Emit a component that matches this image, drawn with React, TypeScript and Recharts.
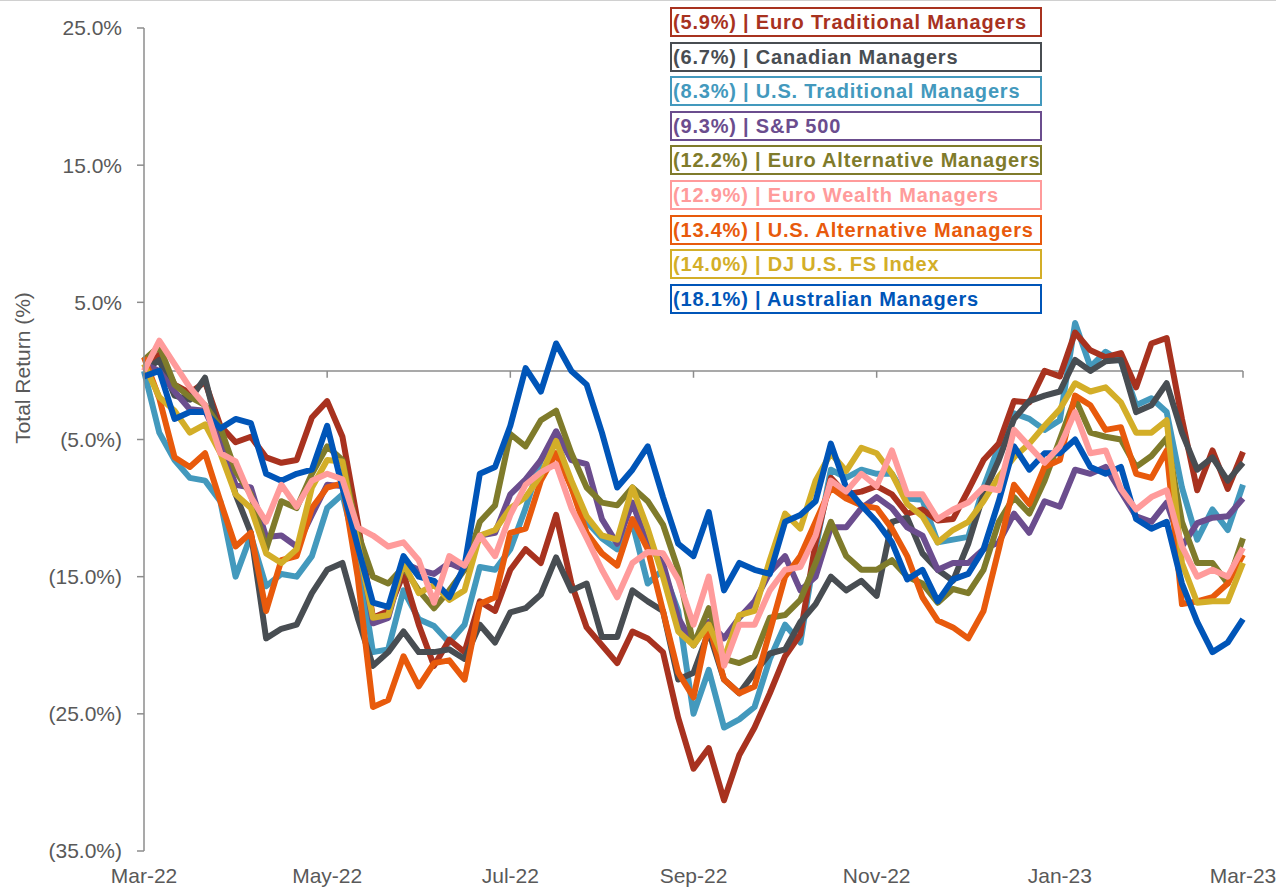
import React from 'react';
import { LineChart, Line, XAxis, YAxis, CartesianGrid, ReferenceLine } from 'recharts';

// Period index (0 = Mar-22 ... 72 = Mar-23)
const monthLabels = ['Mar-22', 'May-22', 'Jul-22', 'Sep-22', 'Nov-22', 'Jan-23', 'Mar-23'];
const monthTicks = [0, 12, 24, 36, 48, 60, 72];
const yTicks = [-35, -25, -15, -5, 5, 15, 25];

// Total return (%)
const euroTrad = [0.0, 1.2, -1.0, -1.6, -0.8, -4.0, -5.2, -4.8, -6.3, -6.7, -6.5, -3.4, -2.2, -4.8, -11.0, -18.0, -17.5, -14.8, -18.5, -21.5, -19.6, -20.5, -16.8, -17.5, -14.5, -13.0, -14.0, -10.5, -15.5, -18.7, -20.0, -21.3, -19.0, -19.5, -20.5, -25.3, -29.0, -27.5, -31.3, -28.0, -26.0, -23.5, -20.8, -19.2, -12.5, -7.8, -9.0, -8.8, -8.4, -9.0, -10.4, -10.1, -10.9, -10.8, -8.7, -6.5, -5.3, -2.2, -2.3, 0.0, -0.4, 2.8, 1.5, 1.0, 1.3, -1.2, 2.0, 2.4, -3.5, -8.7, -5.8, -8.6, -5.9];
const canadian = [0.0, 0.8, -1.8, -2.1, -0.5, -5.0, -9.0, -11.8, -19.5, -18.8, -18.5, -16.2, -14.5, -14.0, -18.0, -21.5, -20.5, -19.0, -20.5, -20.5, -20.3, -21.0, -18.5, -19.8, -17.6, -17.3, -16.3, -13.6, -16.0, -15.5, -19.4, -19.4, -16.0, -16.8, -17.5, -22.5, -22.0, -19.0, -22.5, -23.5, -22.0, -20.6, -20.3, -18.3, -17.0, -15.0, -16.0, -15.3, -16.4, -11.0, -10.7, -13.3, -14.5, -15.3, -12.6, -9.0, -6.5, -3.5, -2.2, -1.8, -1.5, 0.8, 0.0, 0.7, 0.8, -3.0, -2.5, -0.9, -4.5, -7.2, -6.3, -8.0, -6.7];
const usTrad = [0.0, -4.5, -6.5, -7.8, -8.0, -9.5, -15.0, -12.0, -15.7, -14.8, -15.0, -13.5, -10.0, -9.0, -13.5, -20.5, -20.3, -16.0, -18.1, -18.6, -19.8, -18.5, -14.3, -14.5, -13.0, -10.0, -6.5, -4.8, -8.5, -11.0, -12.2, -13.0, -11.1, -15.5, -14.5, -17.5, -25.0, -21.8, -26.0, -25.4, -24.5, -21.0, -18.5, -19.8, -13.0, -7.2, -7.8, -7.2, -7.5, -7.5, -9.3, -9.4, -12.5, -12.3, -12.1, -8.5, -5.5, -3.1, -3.5, -4.3, -3.6, 3.5, 0.3, 1.4, 0.7, -2.5, -2.0, -3.0, -8.5, -12.3, -10.1, -11.6, -8.3];
const sp500 = [0.5, 0.0, -1.5, -2.8, -2.9, -5.3, -8.3, -8.5, -12.1, -12.0, -12.8, -10.5, -8.3, -8.4, -12.0, -18.4, -18.0, -14.0, -14.5, -14.8, -14.0, -14.5, -12.0, -11.8, -9.0, -7.9, -6.5, -4.4, -6.5, -6.8, -10.8, -12.6, -9.6, -12.7, -14.0, -18.0, -20.0, -18.3, -19.5, -18.0, -16.8, -14.7, -13.5, -16.0, -15.0, -11.4, -11.4, -10.0, -9.2, -10.0, -11.4, -12.0, -14.5, -14.0, -14.0, -13.0, -12.5, -10.4, -11.8, -9.5, -9.9, -7.2, -7.5, -7.0, -8.8, -10.6, -11.0, -9.6, -12.8, -11.1, -10.7, -10.6, -9.3];
const euroAlt = [0.8, 1.8, -1.0, -1.9, -2.5, -4.1, -7.3, -9.0, -13.0, -9.5, -10.0, -7.5, -5.5, -6.5, -11.8, -15.0, -15.5, -14.3, -16.0, -17.3, -16.0, -14.5, -11.0, -9.8, -4.6, -5.5, -3.6, -2.9, -6.0, -8.5, -9.6, -9.8, -8.5, -9.5, -11.2, -14.5, -20.0, -17.3, -21.0, -21.3, -20.8, -18.0, -17.8, -16.7, -14.0, -11.0, -13.5, -14.5, -14.5, -13.8, -15.0, -15.5, -16.9, -15.9, -16.2, -14.5, -11.0, -9.2, -10.4, -8.0, -5.0, -2.0, -4.5, -4.8, -5.0, -7.0, -6.2, -4.9, -11.0, -14.0, -14.0, -15.5, -12.2];
const euroWealth = [0.0, 2.2, 0.5, -1.2, -2.5, -6.0, -6.6, -9.2, -11.0, -8.3, -9.9, -8.0, -7.5, -7.9, -11.4, -12.0, -12.8, -12.5, -13.8, -16.9, -13.5, -14.2, -12.0, -13.5, -10.5, -8.3, -7.4, -6.8, -10.0, -12.2, -14.5, -16.5, -14.0, -13.2, -13.3, -15.2, -18.5, -15.0, -21.5, -18.5, -18.5, -16.0, -14.5, -14.3, -12.0, -8.0, -8.8, -7.5, -8.4, -5.8, -9.0, -9.0, -10.8, -10.1, -9.6, -8.5, -8.7, -4.3, -5.5, -6.7, -5.5, -3.0, -6.0, -5.8, -8.6, -10.1, -9.2, -8.7, -12.8, -15.0, -14.5, -15.0, -12.9];
const usAlt = [1.0, -2.0, -6.3, -7.0, -6.0, -9.5, -12.8, -11.8, -17.5, -13.8, -13.5, -10.0, -8.5, -8.2, -15.0, -24.5, -24.0, -20.8, -23.0, -21.3, -21.1, -22.5, -17.0, -16.5, -11.8, -11.5, -8.0, -6.0, -8.5, -11.8, -13.3, -14.2, -10.8, -13.0, -17.5, -22.0, -23.8, -18.5, -22.5, -23.5, -23.0, -19.0, -15.0, -13.5, -11.0, -8.5, -9.3, -9.8, -10.0, -11.5, -13.5, -16.5, -18.2, -18.7, -19.5, -17.5, -13.0, -8.3, -9.7, -7.0, -6.5, -1.8, -2.5, -4.3, -4.1, -7.5, -7.8, -5.8, -17.0, -16.8, -16.5, -15.5, -13.4];
const djFs = [0.5, -1.9, -2.9, -4.5, -3.9, -6.0, -9.0, -10.0, -13.3, -14.0, -13.0, -8.5, -6.5, -6.6, -12.5, -18.0, -17.8, -14.0, -16.2, -15.6, -16.7, -16.0, -12.0, -11.6, -10.0, -9.2, -7.6, -5.1, -8.0, -10.6, -12.0, -12.3, -8.5, -11.5, -15.0, -19.0, -20.0, -18.5, -21.0, -17.8, -17.5, -13.8, -10.4, -11.5, -8.0, -6.0, -7.3, -5.6, -6.0, -7.5, -9.7, -10.6, -12.5, -11.6, -11.0, -9.5, -7.7, -6.3, -5.3, -4.0, -2.8, -0.9, -1.5, -1.2, -2.3, -4.5, -4.5, -3.6, -14.0, -16.9, -16.8, -16.8, -14.0];
const australian = [-0.4, 0.0, -3.5, -3.0, -3.0, -4.2, -3.5, -3.8, -7.5, -8.0, -7.5, -7.2, -4.0, -8.5, -12.8, -16.9, -17.2, -13.5, -15.0, -15.3, -16.5, -14.2, -7.5, -7.0, -4.0, 0.2, -1.5, 2.0, 0.0, -1.0, -4.5, -8.5, -7.2, -5.5, -9.2, -12.6, -13.5, -10.3, -16.0, -14.0, -14.5, -14.8, -11.0, -10.5, -9.5, -5.3, -8.5, -9.8, -11.0, -12.5, -15.2, -14.5, -16.8, -15.2, -14.8, -13.0, -9.5, -5.5, -7.2, -6.0, -6.0, -5.0, -7.0, -7.5, -7.0, -10.8, -11.5, -11.0, -15.5, -18.3, -20.5, -19.8, -18.1];

// Legend entries (in displayed order)
const legendNames = [
  '(5.9%) | Euro Traditional Managers',
  '(6.7%) | Canadian Managers',
  '(8.3%) | U.S. Traditional Managers',
  '(9.3%) | S&P 500',
  '(12.2%) | Euro Alternative Managers',
  '(12.9%) | Euro Wealth Managers',
  '(13.4%) | U.S. Alternative Managers',
  '(14.0%) | DJ U.S. FS Index',
  '(18.1%) | Australian Managers',
];
const legendKeys = ['euroTrad', 'canadian', 'usTrad', 'sp500', 'euroAlt', 'euroWealth', 'usAlt', 'djFs', 'australian'];

const colors: Record<string, string> = {
  euroTrad: '#A8321F',
  canadian: '#484D52',
  usTrad: '#4399BD',
  sp500: '#6B4D8E',
  euroAlt: '#7F7B2B',
  euroWealth: '#FF9B9B',
  usAlt: '#E85A0C',
  djFs: '#D3AE28',
  australian: '#0055B8',
};

// draw order (later on top)
const drawOrder = ['usTrad', 'euroTrad', 'canadian', 'sp500', 'euroAlt', 'usAlt', 'djFs', 'australian', 'euroWealth'];

const seriesMap: Record<string, number[]> = { euroTrad, canadian, usTrad, sp500, euroAlt, euroWealth, usAlt, djFs, australian };

const data = euroTrad.map((_, i) => {
  const row: Record<string, number> = { i };
  Object.keys(seriesMap).forEach((k) => {
    row[k] = seriesMap[k][i];
  });
  return row;
});

const FONT = '"Liberation Sans", Arial, sans-serif';
const AXIS = '#8C8C8C';
const TEXT = '#595959';

const fmtY = (v: number) => (v < 0 ? `(${Math.abs(v).toFixed(1)}%)` : `${v.toFixed(1)}%`);
const fmtX = (v: number) => {
  const k = monthTicks.indexOf(v);
  return k >= 0 ? monthLabels[k] : '';
};

export default function App() {
  return (
    <div style={{ position: 'absolute', left: 0, top: 0, width: 1276, height: 887, background: '#fff', fontFamily: FONT }}>
      <div style={{ position: 'absolute', left: 0, top: 0, width: 1276, height: 1, background: '#D0D0D0' }} />
      <LineChart width={1276} height={887} data={data} margin={{ top: 28, right: 33, left: 0, bottom: 0 }}>
        <CartesianGrid horizontal={true} vertical={false} horizontalValues={[0]} stroke={AXIS} strokeWidth={1.5} />
        <XAxis
          dataKey="i"
          type="number"
          domain={[0, 72]}
          ticks={monthTicks}
          interval={0}
          tickFormatter={fmtX}
          axisLine={false}
          tickLine={false}
          tickSize={0}
          tickMargin={17}
          height={36}
          tick={{ fill: TEXT, fontSize: 21, fontFamily: FONT }}
        />
        <YAxis
          type="number"
          domain={[-35, 25]}
          ticks={yTicks}
          interval={0}
          tickFormatter={fmtY}
          width={144}
          axisLine={{ stroke: AXIS, strokeWidth: 1.5 }}
          tickLine={{ stroke: AXIS, strokeWidth: 1.5 }}
          tickSize={7}
          tickMargin={15}
          tick={{ fill: TEXT, fontSize: 21, fontFamily: FONT }}
        />
        {monthTicks.slice(1).map((t) => (
          <ReferenceLine
            key={'tk' + t}
            segment={[{ x: t, y: 0 }, { x: t, y: -0.5 }]}
            stroke={AXIS}
            strokeWidth={1.5}
          />
        ))}
        {drawOrder.map((k) => (
          <Line
            key={k}
            dataKey={k}
            type="linear"
            stroke={colors[k]}
            strokeWidth={6}
            strokeLinejoin="round"
            dot={false}
            activeDot={false}
            isAnimationActive={false}
          />
        ))}
      </LineChart>
      <svg style={{ position: 'absolute', left: 0, top: 0 }} width={60} height={887}>
        <text transform="translate(30,368) rotate(-90)" textAnchor="middle" fontSize={21} fill={TEXT} fontFamily={FONT}>
          Total Return (%)
        </text>
      </svg>
      {legendKeys.map((k, idx) => (
        <div
          key={k}
          style={{
            position: 'absolute',
            left: 670,
            top: 7 + idx * 34.6,
            width: 372,
            height: 30,
            boxSizing: 'border-box',
            border: `2px solid ${colors[k]}`,
            background: '#fff',
            color: colors[k],
            fontWeight: 'bold',
            fontSize: 20,
            letterSpacing: 0.8,
            lineHeight: '26px',
            paddingLeft: 1,
            whiteSpace: 'nowrap',
            fontFamily: FONT,
          }}
        >
          {legendNames[idx]}
        </div>
      ))}
    </div>
  );
}
